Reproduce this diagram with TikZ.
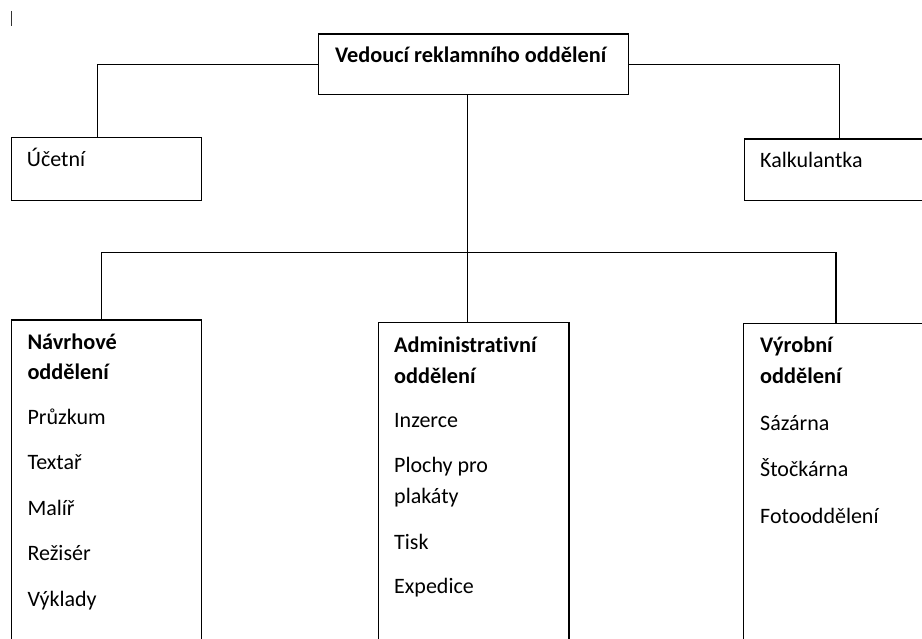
\documentclass[tikz,border=0pt]{standalone}
\usepackage{fontspec}
\setmainfont{Carlito}[Ligatures=NoCommon]
\begin{document}
\begin{tikzpicture}[x=1pt,y=-1pt,
  box/.style={draw=black, line width=1.4pt, anchor=north west, inner sep=0pt},
  openbox/.style={anchor=north west, inner sep=0pt},
  lbl/.style={anchor=base west, inner sep=0pt, font=\fontsize{22}{31}\selectfont},
  hd/.style={anchor=base west, inner sep=0pt, font=\fontsize{22.3}{31}\selectfont\bfseries},
  conn/.style={draw=black, line width=1.4pt}]
\useasboundingbox (0,0) rectangle (922,639);
\fill[white] (0,0) rectangle (922,639);
% stray tick
\draw[line width=1pt, black!80] (11,11) -- (11,26);
% boxes
\node[box, minimum width=310pt, minimum height=60.7pt] (top) at (317.7,33.3) {};
\node[box, minimum width=190pt, minimum height=63pt] (ucet) at (11,137) {};
\node[openbox, minimum width=178pt, minimum height=61.3pt] (kalk) at (744.3,139) {};
\draw[conn] (kalk.north east) -- (kalk.north west) -- (kalk.south west) -- (kalk.south east);
\node[box, minimum width=190pt, minimum height=330pt] (navr) at (11,319.3) {};
\node[box, minimum width=190.6pt, minimum height=330pt] (admin) at (377.7,322) {};
\node[openbox, minimum width=179pt, minimum height=330pt] (vyrob) at (743.3,323.3) {};
\draw[conn] (vyrob.north east) -- (vyrob.north west) -- (vyrob.south west);
% connectors
\draw[conn] (top.west) -| ([xshift=86.7pt]ucet.north west);
\draw[conn] (top.east) -| ([xshift=95pt]kalk.north west);
\coordinate (mid) at ([xshift=150pt]top.south west);
\draw[conn] (mid) -- (mid |- admin.north);
\coordinate (busL) at (101.7,252.3);
\coordinate (busR) at (836,252.3);
\draw[conn] (busL |- navr.north) -- (busL) -- (busR) -- (busR |- vyrob.north);
% texts
\node[hd] (t0) at (335,62.7) {Vedoucí reklamního oddělení};
\node[lbl] (t1) at (26.7,166.7) {Účetní};
\node[lbl] (t2) at (760,167.3) {Kalkulantka};
% Navrhove
\node[hd] (n1) at (27.3,349.5) {Návrhové};
\node[hd] (n2) at (27.3,380) {oddělení};
\node[lbl] (n3) at (27.3,424.5) {Průzkum};
\node[lbl] (n4) at (27.3,469) {Textař};
\node[lbl] (n5) at (27.3,515) {Malíř};
\node[lbl] (n6) at (27.3,560.5) {Režisér};
\node[lbl] (n7) at (27.3,606) {Výklady};
% Administrativni
\node[hd] (a1) at (394,352.5) {Administrativní};
\node[hd] (a2) at (394,383.5) {oddělení};
\node[lbl] (a3) at (394,427) {Inzerce};
\node[lbl] (a4) at (394,472) {Plochy pro};
\node[lbl] (a5) at (394,503) {plakáty};
\node[lbl] (a6) at (394,549) {Tisk};
\node[lbl] (a7) at (394,593.5) {Expedice};
% Vyrobni
\node[hd] (v1) at (760,352.5) {Výrobní};
\node[hd] (v2) at (760,383.5) {oddělení};
\node[lbl] (v3) at (760,430) {Sázárna};
\node[lbl] (v4) at (760,476.5) {Štočkárna};
\node[lbl] (v5) at (760,523) {Fotooddělení};
\end{tikzpicture}
\end{document}
